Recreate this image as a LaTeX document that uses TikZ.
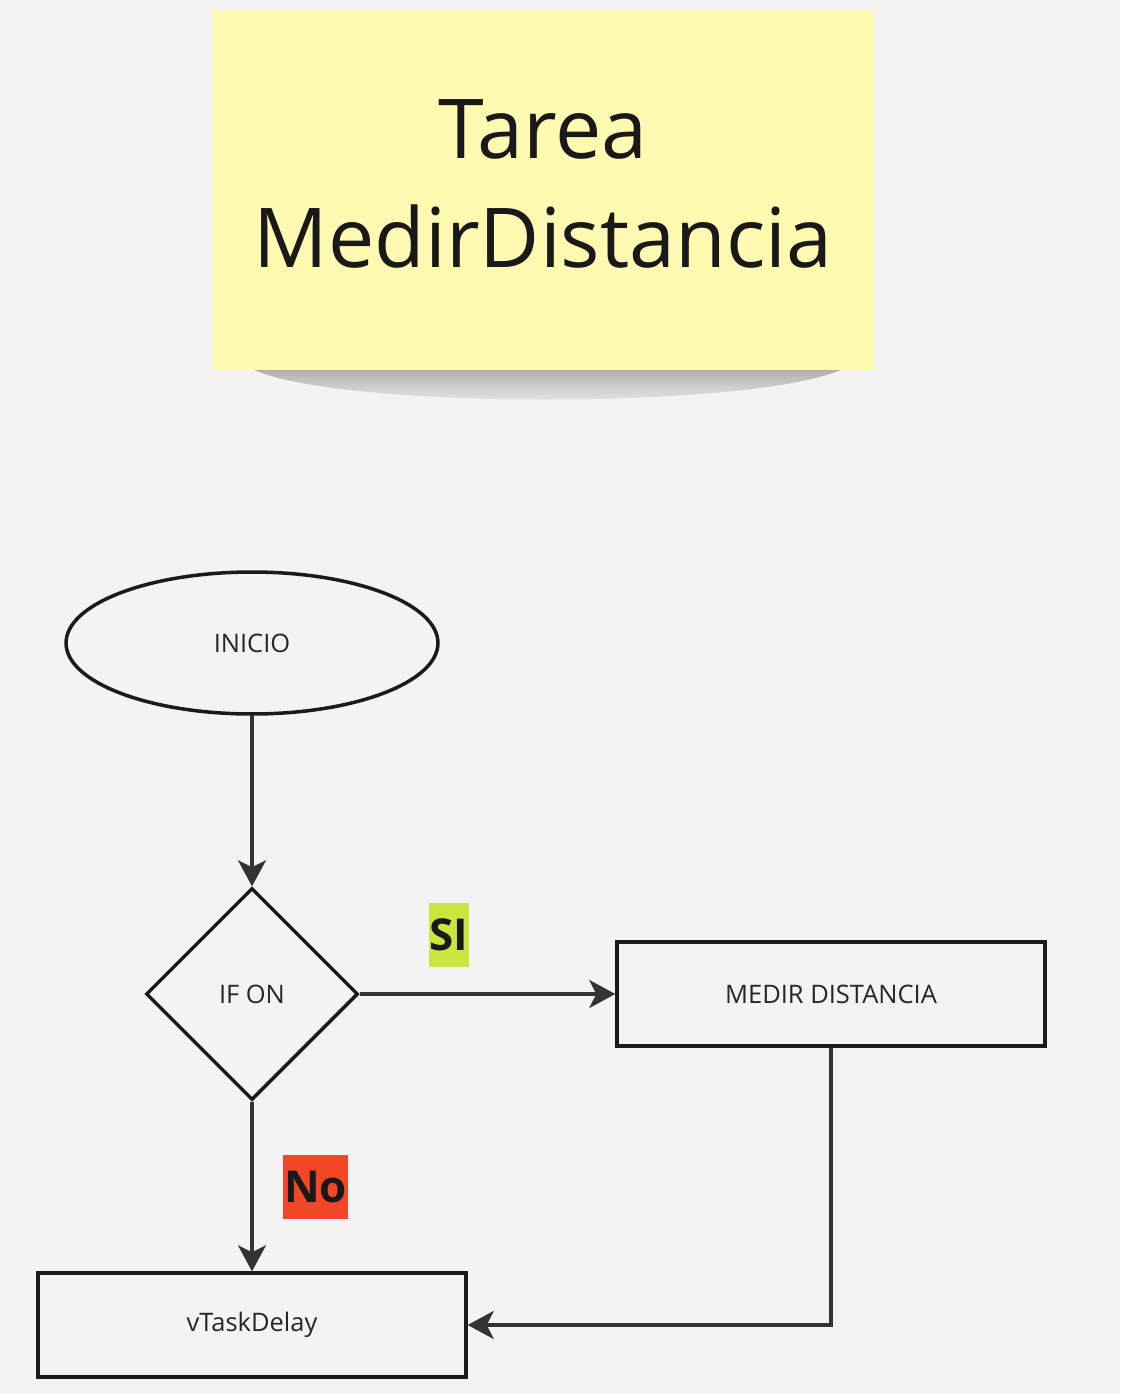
\documentclass[tikz,border=0pt]{standalone}
\usepackage{fontspec}
\setmainfont{Open Sans}
\usetikzlibrary{arrows.meta}
\usetikzlibrary{shapes.geometric}
\definecolor{bgcol}{HTML}{F3F3F3}
\definecolor{notecol}{HTML}{FFF9B1}
\definecolor{sicol}{HTML}{CDE43F}
\definecolor{nocol}{HTML}{F24726}
\definecolor{linecol}{HTML}{1A1A1A}
\definecolor{arrowcol}{HTML}{333333}

\begin{document}
\begin{tikzpicture}[x=0.02cm, y=-0.02cm]
		\tikzset{box/.style={shape = rectangle, draw = linecol, line width = 2pt, inner sep = 0pt,
				minimum width = 8.56cm, minimum height = 2.08cm, font = \fontsize{14.5}{17}\selectfont, text = black!85}}
		\tikzset{start/.style={shape = ellipse, draw = linecol, line width = 2pt, inner sep = 0pt,
				minimum width = 7.44cm, minimum height = 2.84cm, font = \fontsize{14.5}{17}\selectfont, text = black!85}}
		\tikzset{choice/.style={shape = diamond, draw = linecol, line width = 2pt, inner sep = 0pt,
				minimum width = 4.24cm, minimum height = 4.24cm, font = \fontsize{14.5}{17}\selectfont, text = black!85}}
		\tikzset{tag/.style={inner sep = 0pt, font = \fontsize{25}{30}\selectfont\bfseries, text = black!90}}
		\tikzset{flow/.style={draw = arrowcol, line width = 2pt, -{Stealth[length = 5.2mm, width = 5.6mm, inset = 1.4mm]}}}
		%background
		\fill[bgcol] (0, 0) rectangle (1120, 1394);
		\useasboundingbox (0, 0) rectangle (1120, 1394);
		%note
		\shade[top color = black!32, bottom color = bgcol] (250, 368) .. controls (330, 410) and (760, 410) .. (845, 368) -- cycle;
		\fill[notecol] (212, 10) rectangle (874, 370);
		\node[align = center, inner sep = 0pt, font = \fontsize{47}{62}\selectfont, text = black!90] (title) at (543, 184) {Tarea\\MedirDistancia};
		%vertices
		\node[start] (inicio) at (252, 643) {INICIO};
		\node[choice] (ifon) at (252, 994) {IF ON};
		\node[box] (medir) at (831, 994) {MEDIR DISTANCIA};
		\node[box] (delay) at (252, 1325) {vTaskDelay};
		\node[tag, fill = sicol, minimum width = 0.8cm, minimum height = 1.28cm] (si) at (449, 935) {SI};
		\node[tag, fill = nocol, minimum width = 1.3cm, minimum height = 1.28cm] (no) at (315.5, 1187) {No};
		\coordinate (corner) at (medir.south |- delay.east);
		%edges
		\path (inicio) edge[flow] (ifon);
		\path (ifon.east) edge[flow] (medir.west);
		\path (ifon.south) edge[flow] (delay.north);
		\draw[flow] (medir.south) -- (corner) -- (delay.east);
\end{tikzpicture}
\end{document}
